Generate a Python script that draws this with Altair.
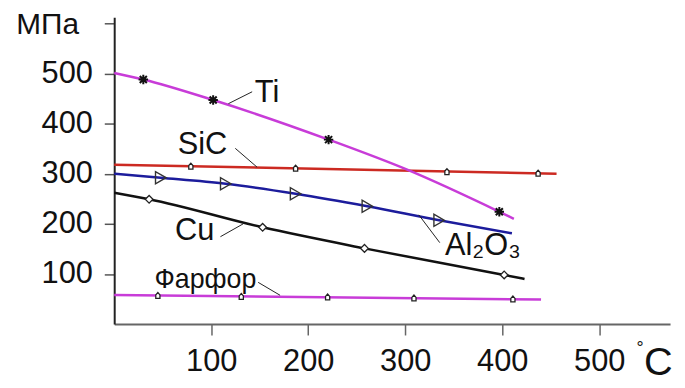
import altair as alt
import pandas as pd

# ---- data (T in °C, strength in MPa) ----
ti_line_T = [0, 30, 102, 221, 302, 397, 412]
ti_line_S = [501, 488, 447, 368, 308, 224, 210]
ti_mark_T = [30, 102, 221, 397]
ti_mark_S = [488, 447, 368, 224]

sic_line_T = [0, 456]
sic_line_S = [318, 300]
sic_mark_T = [79, 187, 343, 437]
sic_mark_S = [315, 311, 304, 301]

al_line_T = [0, 48, 115, 187, 261, 335, 410]
al_line_S = [300, 292, 280, 260, 235, 207, 181]
al_mark_T = [48, 115, 187, 261, 335]
al_mark_S = [292, 280, 260, 235, 207]

cu_line_T = [0, 36, 153, 258, 402, 423]
cu_line_S = [262, 249, 193, 151, 98, 90]
cu_mark_T = [36, 153, 258, 402]
cu_mark_S = [249, 193, 151, 98]

por_line_T = [0, 440]
por_line_S = [58, 49]
por_mark_T = [45, 131, 220, 309, 411]
por_mark_S = [57, 55, 54, 52, 50]

x_ticks = [100, 200, 300, 400, 500]
y_ticks = [100, 200, 300, 400, 500, 600]

ann_text = ["Ti", "SiC", "Cu", "Al₂O₃", "Фарфор", "МПа", "°", "C"]
ann_T = [157.6, 91, 83, 341, 94, -68.6, 542, 561]
ann_S = [461, 358, 186, 156, 88, 596, -49.5, -78]
ann_fs = [31, 31, 31, 31, 27, 30, 18, 40]
ann_align = ["center", "center", "center", "left", "center", "center", "center", "center"]

lead_T1 = [117.7, 124.8, 109.5, 314.0, 148.4]
lead_S1 = [439.7, 350.6, 174.3, 217.9, 83.2]
lead_T2 = [142.2, 147.3, 133.0, 335.6, 171.0]
lead_S2 = [463.5, 313.0, 200.0, 162.4, 57.4]

FONT = "Liberation Sans"
MAGENTA = "#c83cd8"
RED = "#cc2a22"
BLUE = "#1c1c9c"
BLACK = "#111111"

xs = alt.Scale(domain=[0, 573], nice=False, zero=False)
ys = alt.Scale(domain=[0, 612], nice=False, zero=False)
xaxis = alt.Axis(values=x_ticks, title=None, grid=False, tickSize=11, tickWidth=1.5,
                 tickColor="#666666", domainColor="#666666", domainWidth=2,
                 labelFontSize=31, labelFont=FONT, labelColor=BLACK, labelPadding=12,
                 labelFlush=False, labelOverlap=False)
yaxis = alt.Axis(values=y_ticks, title=None, grid=False, tickSize=10, tickWidth=1.5,
                 tickColor="#555555", domainColor="#222222", domainWidth=2,
                 labelFontSize=31, labelFont=FONT, labelColor=BLACK, labelPadding=12,
                 labelExpr="datum.value == 600 ? '' : datum.label",
                 labelFlush=False, labelOverlap=False)


def enc(chart):
    return chart.encode(x=alt.X("T:Q", scale=xs, axis=xaxis),
                        y=alt.Y("S:Q", scale=ys, axis=yaxis))


def line(T, S, color):
    return enc(alt.Chart(pd.DataFrame({"T": T, "S": S})).mark_line(
        color=color, strokeWidth=2.5, interpolate="monotone"))


def marks(T, S, shape, size, fill, stroke="#222222", sw=1.3):
    kw = dict(shape=shape, size=size, stroke=stroke, strokeWidth=sw, opacity=1)
    if fill is None:
        kw["filled"] = False
    else:
        kw["filled"] = True
        kw["fill"] = fill
        kw["fillOpacity"] = 1
    return enc(alt.Chart(pd.DataFrame({"T": T, "S": S})).mark_point(**kw))


ASTERISK = "M-1,0L1,0M0,-1L0,1M-0.75,-0.75L0.75,0.75M-0.75,0.75L0.75,-0.75"
HOUSE = "M-0.7,1L-0.7,-0.2L0,-1L0.7,-0.2L0.7,1Z"

layers = [
    line(por_line_T, por_line_S, MAGENTA),
    line(cu_line_T, cu_line_S, BLACK),
    line(al_line_T, al_line_S, BLUE),
    line(sic_line_T, sic_line_S, RED),
    line(ti_line_T, ti_line_S, MAGENTA),
    marks(por_mark_T, por_mark_S, HOUSE, 36, "white"),
    marks(sic_mark_T, sic_mark_S, HOUSE, 36, "white"),
    marks(cu_mark_T, cu_mark_S, "diamond", 60, "white"),
    marks(al_mark_T, al_mark_S, "triangle-right", 150, None, "#333333", 1.4),
    marks(ti_mark_T, ti_mark_S, ASTERISK, 90, None, "#111111", 2),
]

lead_df = pd.DataFrame({"T": lead_T1, "S": lead_S1, "T2": lead_T2, "S2": lead_S2})
leaders = alt.Chart(lead_df).mark_rule(color="#222222", strokeWidth=1).encode(
    x=alt.X("T:Q", scale=xs, axis=xaxis), y=alt.Y("S:Q", scale=ys, axis=yaxis),
    x2="T2:Q", y2="S2:Q")
layers.append(leaders)

ann_df = pd.DataFrame({"txt": ann_text, "T": ann_T, "S": ann_S, "fs": ann_fs, "al": ann_align})
for al in ["center", "left"]:
    sub = ann_df[ann_df["al"] == al]
    layers.append(alt.Chart(sub).mark_text(font=FONT, color=BLACK, align=al, baseline="middle").encode(
        x=alt.X("T:Q", scale=xs, axis=xaxis), y=alt.Y("S:Q", scale=ys, axis=yaxis),
        text="txt:N", size=alt.Size("fs:Q", scale=None, legend=None)))

chart = alt.layer(*layers).properties(
    width=560, height=309,
    padding={"left": 107, "top": 8, "right": 7, "bottom": 62},
    autosize=alt.AutoSizeParams(type="none"),
).configure_view(stroke=None)

chart.save("out.html", embed_options={"renderer": "svg", "actions": False})
